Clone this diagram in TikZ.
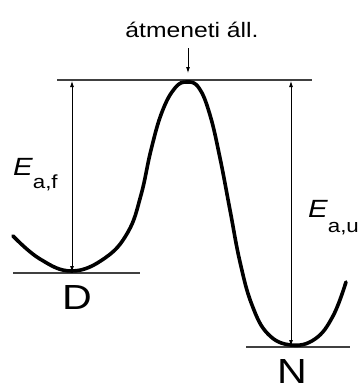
\documentclass[tikz,border=0pt]{standalone}
\usepackage{fontspec}
\setmainfont{Liberation Sans}
\usepackage{tikz}
\usetikzlibrary{calc, arrows.meta}

\begin{document}
\begin{tikzpicture}[x=1bp, y=-1bp, >={Latex[length=6bp,width=4bp]},
    gorbe/.style={line width=3.6bp, line join=round, line cap=round},
    szint/.style={line width=1.1bp, black!75},
    nyil/.style={<->, line width=0.8bp},
    felirat/.style={inner sep=0pt, xscale=1.18}]
    \useasboundingbox (0,0) rectangle (364,389);

    % 1. Energiaszintek (vízszintes vonalak)
    \coordinate (tsL) at (57,80);   \coordinate (tsR) at (312,80);
    \coordinate (dL)  at (13,273);  \coordinate (dR)  at (140,273);
    \coordinate (nL)  at (246,347); \coordinate (nR)  at (350,347);
    \draw[szint] (tsL) -- (tsR);
    \draw[szint] (dL) -- (dR);
    \draw[szint] (nL) -- (nR);

    % 2. Energiagörbe
    \draw[gorbe] plot[smooth, tension=0.7] coordinates {
        (13,236) (40,259) (72,271) (105,258) (128,232) (141,195)
        (151,150) (162,112) (175,88) (187,82) (199,88) (210,115)
        (220,158) (230,210) (240,262) (252,305) (268,334) (291,345)
        (315,339) (333,316) (346,282)};

    % 3. Aktiválási energiák nyilai
    \coordinate (fa) at (72,81);  \coordinate (fd) at (72,272);
    \coordinate (ua) at (291,81); \coordinate (ud) at (291,346);
    \draw[nyil] (fd) -- (fa);
    \draw[nyil] (ud) -- (ua);

    % 4. Feliratok
    \node[felirat, anchor=base] (ts) at (192,37)
        {\fontsize{21}{24}\selectfont átmeneti áll.};
    \coordinate (csucs) at (188,73);
    \draw[->, line width=0.8bp, shorten <=11bp] (ts.south -| csucs) -- (csucs);

    \node[felirat, anchor=base west] (Eaf) at (13,175)
        {\fontsize{25}{28}\selectfont\itshape E\upshape\raisebox{-13bp}{\fontsize{19}{22}\selectfont a,f}};
    \node[felirat, anchor=base west] (Eau) at (308,217)
        {\fontsize{25}{28}\selectfont\itshape E\upshape\raisebox{-15bp}{\fontsize{19}{22}\selectfont a,u}};

    \node[felirat, anchor=base] (D) at (77,309) {\fontsize{35}{38}\selectfont D};
    \node[felirat, anchor=base] (N) at (292,383) {\fontsize{35}{38}\selectfont N};
\end{tikzpicture}
\end{document}
